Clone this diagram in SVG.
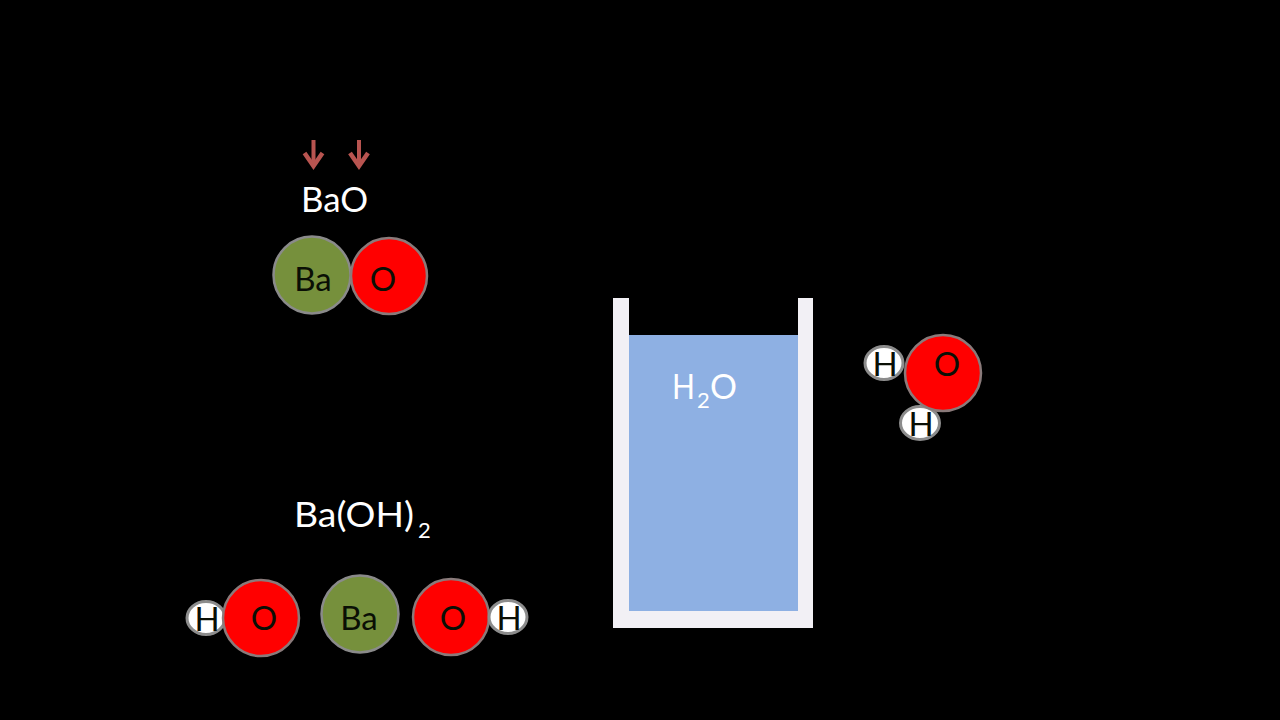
<svg xmlns="http://www.w3.org/2000/svg" width="1280" height="720" viewBox="0 0 1280 720">
<defs>
<marker id="ah" markerUnits="userSpaceOnUse" markerWidth="22" markerHeight="26" refX="16" refY="13" orient="auto"><path d="M3 4L16 13L3 22" fill="none" stroke="#b85450" stroke-width="4.500"/></marker>
</defs>
<style>
text{font-family:"Lato","Carlito","Open Sans",sans-serif}
.ba{fill:#76903c;stroke:#8a8a8a;stroke-width:2.5}
.o{fill:#ff0000;stroke:#8a7a7a;stroke-width:2.5}
.h{fill:#ffffff;stroke:#8c8c8c;stroke-width:3}
.lab{font-size:33px;fill:#0a0f05;text-anchor:middle}
.title{font-size:35px;fill:#ffffff}
.sub{font-size:22px;fill:#ffffff}
.arr{stroke:#b85450;stroke-width:4;fill:none;marker-end:url(#ah)}
</style>
<rect width="1280" height="720" fill="#000000"/>
<g id="connectors">
<path class="arr" d="M313.500 140V166"/>
<path class="arr" d="M359 140V166"/>
</g>
<g id="label-bao"><text class="title" x="301" y="212" textLength="67" lengthAdjust="spacingAndGlyphs">BaO</text></g>
<g id="bao-ba"><circle class="ba" cx="312" cy="275" r="38.500"/><text class="lab" x="313" y="291">Ba</text></g>
<g id="bao-o"><circle class="o" cx="389" cy="276" r="38"/><text class="lab" x="383" y="291">O</text></g>
<g id="beaker">
<path d="M613 298H629V611H798V298H813V628H613Z" fill="#f2f0f5"/>
<rect x="629" y="335" width="169" height="276" fill="#8eb0e3"/>
<text class="title" x="672" y="399" textLength="23" lengthAdjust="spacingAndGlyphs">H</text>
<text class="sub" x="697" y="408">2</text>
<text class="title" x="710" y="399" textLength="27" lengthAdjust="spacingAndGlyphs">O</text>
</g>
<g id="water-h1"><ellipse class="h" cx="884" cy="363" rx="19" ry="16.500"/><text class="lab" x="885" y="376">H</text></g>
<g id="water-h2"><ellipse class="h" cx="920" cy="423" rx="19.500" ry="16.500"/><text class="lab" x="921" y="436">H</text></g>
<g id="water-o"><circle class="o" cx="943" cy="373" r="38"/><text class="lab" x="947" y="376">O</text></g>
<g id="label-baoh2">
<text class="title" x="294" y="527" textLength="120" lengthAdjust="spacingAndGlyphs">Ba(OH)</text>
<text class="sub" x="418" y="538">2</text>
</g>
<g id="left-h"><ellipse class="h" cx="206" cy="618" rx="19" ry="16.500"/><text class="lab" x="207" y="631">H</text></g>
<g id="left-o"><circle class="o" cx="261" cy="618" r="38"/><text class="lab" x="264" y="630">O</text></g>
<g id="center-ba"><circle class="ba" cx="360" cy="614" r="38.500"/><text class="lab" x="359" y="630">Ba</text></g>
<g id="right-o"><circle class="o" cx="451" cy="617" r="38"/><text class="lab" x="453" y="630">O</text></g>
<g id="right-h"><ellipse class="h" cx="508" cy="617" rx="19" ry="16.500"/><text class="lab" x="509" y="630">H</text></g>
</svg>
